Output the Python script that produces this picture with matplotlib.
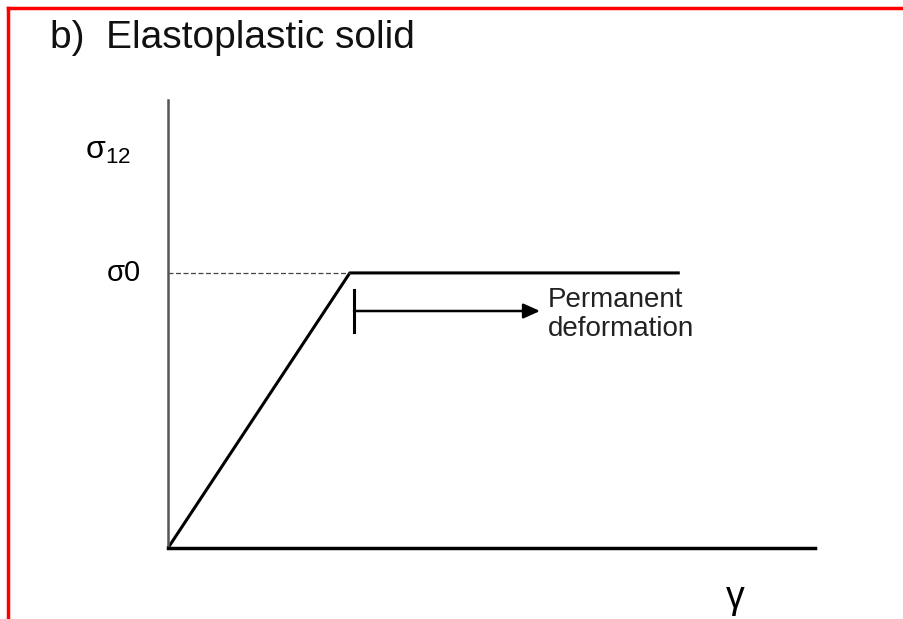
import matplotlib.pyplot as plt
from matplotlib.lines import Line2D

plt.rcParams['font.family'] = ['Liberation Sans', 'DejaVu Sans']
plt.rcParams['mathtext.fontset'] = 'custom'
plt.rcParams['mathtext.rm'] = 'Liberation Sans'
plt.rcParams['mathtext.it'] = 'Liberation Sans'

# elastoplastic stress-strain response (normalised units)
gamma = [0.0, 0.281, 0.791]
sigma = [0.0, 0.614, 0.614]
sigma_0 = 0.614
gamma_yield = 0.2875
arrow_end = 0.575
marker_span = [0.482, 0.576]

W, H = 904, 619
fig = plt.figure(figsize=(W / 100, H / 100), dpi=100)

# red frame along the top and left edge
fig.add_artist(Line2D([8 / W, 8 / W], [0, 1 - 8 / H], color='#ff0000', lw=2.5,
                      transform=fig.transFigure, solid_capstyle='projecting'))
fig.add_artist(Line2D([8 / W, 1], [1 - 8 / H, 1 - 8 / H], color='#ff0000', lw=2.5,
                      transform=fig.transFigure, solid_capstyle='projecting'))

ax = fig.add_axes([168 / W, (H - 548) / H, (815 - 168) / W, (548 - 100) / H])
ax.set_xlim(0, 1)
ax.set_ylim(0, 1)
for s in ['top', 'right']:
    ax.spines[s].set_visible(False)
ax.spines['left'].set_color('#555555')
ax.spines['left'].set_linewidth(1.8)
ax.spines['bottom'].set_color('black')
ax.spines['bottom'].set_linewidth(2.5)
ax.set_xticks([])
ax.set_yticks([])

ax.plot(gamma, sigma, color='black', lw=2.2, solid_capstyle='butt', clip_on=False)
ax.plot([0, gamma[1]], [sigma_0, sigma_0], color='#444444', lw=0.9,
        linestyle=(0, (4, 2)), clip_on=False)

# permanent deformation marker and arrow
ax.plot([gamma_yield, gamma_yield], marker_span, color='black', lw=2.2)
ax.annotate('', xy=(arrow_end, sum(marker_span) / 2),
            xytext=(gamma_yield, sum(marker_span) / 2),
            arrowprops=dict(arrowstyle='-|>,head_length=1.0,head_width=0.45',
                            color='black', lw=1.8, shrinkA=0, shrinkB=0))
ax.text(0.587, 0.522, 'Permanent\ndeformation', fontsize=20, color='#222222',
        ha='left', va='center', linespacing=1.15)

# axis labels
ax.text(-0.128, 0.886, 'σ$_{12}$', fontsize=23, ha='left', va='center', clip_on=False)
ax.text(-0.095, sigma_0, 'σ0', fontsize=21, ha='left', va='center', clip_on=False)
ax.text(0.876, -0.112, 'γ', fontsize=27, ha='center', va='center', clip_on=False)

fig.text(50 / W, 1 - 38 / H, 'b)  Elastoplastic solid', fontsize=28,
         ha='left', va='center', color='#111111')

fig.savefig('out.png', dpi=100)
